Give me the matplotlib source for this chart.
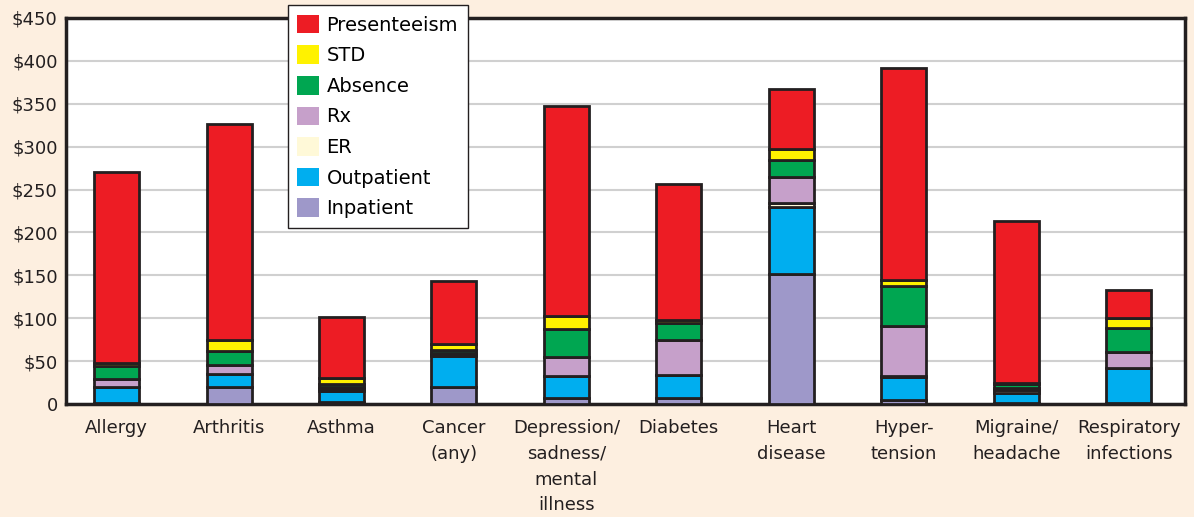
import matplotlib.pyplot as plt
import numpy as np

# categories and cost components (dollars per employee)
conditions = ['Allergy', 'Arthritis', 'Asthma', 'Cancer\n(any)', 'Depression/\nsadness/\nmental\nillness',
              'Diabetes', 'Heart\ndisease', 'Hyper-\ntension', 'Migraine/\nheadache', 'Respiratory\ninfections']
inpatient = [1, 20, 2, 20, 7, 7, 152, 5, 1, 1]
outpatient = [19, 15, 13, 36, 26, 27, 78, 26, 12, 41]
er = [0, 0, 2, 1, 0, 0, 4, 2, 3, 0]
rx = [9, 10, 3, 3, 22, 41, 31, 58, 3, 19]
absence = [15, 17, 3, 3, 32, 19, 19, 47, 4, 28]
std = [4, 13, 7, 7, 15, 4, 13, 7, 2, 11]
presenteeism = [222, 251, 71, 73, 245, 158, 70, 247, 188, 33]

series = [('Inpatient', inpatient, '#9E98C9'),
          ('Outpatient', outpatient, '#00AEEF'),
          ('ER', er, '#FFF9D8'),
          ('Rx', rx, '#C6A0CA'),
          ('Absence', absence, '#00A651'),
          ('STD', std, '#FFF200'),
          ('Presenteeism', presenteeism, '#ED1C24')]

bg = '#FDEFE0'
edge = '#231F20'

fig = plt.figure(figsize=(11.94, 5.17), dpi=100, facecolor=bg)
ax = fig.add_axes([0.0553, 0.2186, 0.937, 0.7466])
ax.set_facecolor('white')

x = np.arange(len(conditions))
bottom = np.zeros(len(conditions))
handles = []
for name, vals, col in series:
    vals = np.array(vals, dtype=float)
    b = ax.bar(x, vals, 0.4, bottom=bottom, color=col, edgecolor=edge, linewidth=2, zorder=3, label=name)
    handles.append(b)
    bottom += vals

# axes styling
ax.set_xlim(-0.45, 9.5)
ax.set_ylim(0, 450)
ax.set_yticks(np.arange(0, 451, 50))
ax.set_yticklabels(['0'] + ['$' + str(v) for v in range(50, 451, 50)], fontsize=13, color='#231F20')
ax.set_xticks(x)
ax.set_xticklabels(conditions, fontsize=13, color='#231F20', linespacing=1.55)
ax.tick_params(axis='y', length=0, pad=6)
ax.tick_params(axis='x', length=0, pad=11)
ax.yaxis.grid(True, color='#D0D0D0', linewidth=1.5, zorder=0)
for s in ax.spines.values():
    s.set_color(edge)
    s.set_linewidth(2.5)

leg = ax.legend(handles[::-1], [s[0] for s in series][::-1], loc='upper left', bbox_to_anchor=(0.198, 1.034),
                borderaxespad=0, fontsize=14, frameon=True, fancybox=False, edgecolor=edge, framealpha=1,
                handlelength=1.1, handleheight=1.1, handletextpad=0.4, labelspacing=0.55, borderpad=0.5)
for h in leg.legend_handles:
    h.set_edgecolor('none')
leg.get_frame().set_linewidth(1)
leg.set_zorder(5)

plt.savefig('out.png', dpi=100, facecolor=bg)
